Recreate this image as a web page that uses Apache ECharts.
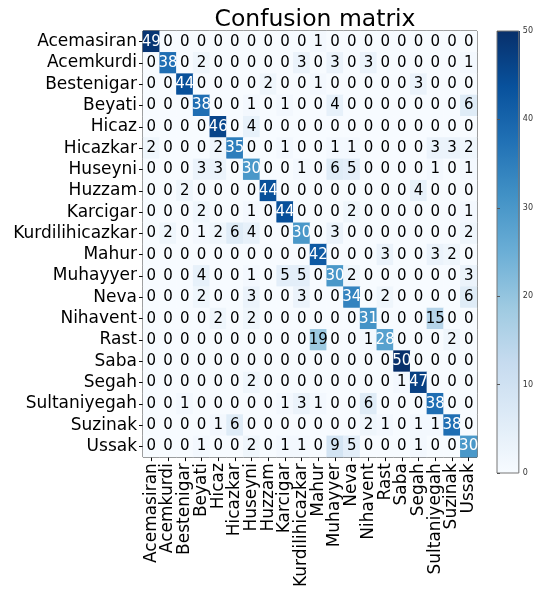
<!DOCTYPE html>
<html>
<head>
<meta charset="utf-8">
<script src="https://cdn.jsdelivr.net/npm/echarts@6/dist/echarts.min.js"></script>
<style>
  html, body { margin: 0; padding: 0; background: #fff; }
  #chart { width: 536px; height: 590px; }
</style>
</head>
<body>
<div id="chart"></div>
<script>
const labels = ['Acemasiran', 'Acemkurdi', 'Bestenigar', 'Beyati', 'Hicaz', 'Hicazkar', 'Huseyni', 'Huzzam',
  'Karcigar', 'Kurdilihicazkar', 'Mahur', 'Muhayyer', 'Neva', 'Nihavent', 'Rast', 'Saba', 'Segah',
  'Sultaniyegah', 'Suzinak', 'Ussak']

// rows = true label, columns = predicted label
const matrix = [
  [49, 0, 0, 0, 0, 0, 0, 0, 0, 0, 1, 0, 0, 0, 0, 0, 0, 0, 0, 0],
  [0, 38, 0, 2, 0, 0, 0, 0, 0, 3, 0, 3, 0, 3, 0, 0, 0, 0, 0, 1],
  [0, 0, 44, 0, 0, 0, 0, 2, 0, 0, 1, 0, 0, 0, 0, 0, 3, 0, 0, 0],
  [0, 0, 0, 38, 0, 0, 1, 0, 1, 0, 0, 4, 0, 0, 0, 0, 0, 0, 0, 6],
  [0, 0, 0, 0, 46, 0, 4, 0, 0, 0, 0, 0, 0, 0, 0, 0, 0, 0, 0, 0],
  [2, 0, 0, 0, 2, 35, 0, 0, 1, 0, 0, 1, 1, 0, 0, 0, 0, 3, 3, 2],
  [0, 0, 0, 3, 3, 0, 30, 0, 0, 1, 0, 6, 5, 0, 0, 0, 0, 1, 0, 1],
  [0, 0, 2, 0, 0, 0, 0, 44, 0, 0, 0, 0, 0, 0, 0, 0, 4, 0, 0, 0],
  [0, 0, 0, 2, 0, 0, 1, 0, 44, 0, 0, 0, 2, 0, 0, 0, 0, 0, 0, 1],
  [0, 2, 0, 1, 2, 6, 4, 0, 0, 30, 0, 3, 0, 0, 0, 0, 0, 0, 0, 2],
  [0, 0, 0, 0, 0, 0, 0, 0, 0, 0, 42, 0, 0, 0, 3, 0, 0, 3, 2, 0],
  [0, 0, 0, 4, 0, 0, 1, 0, 5, 5, 0, 30, 2, 0, 0, 0, 0, 0, 0, 3],
  [0, 0, 0, 2, 0, 0, 3, 0, 0, 3, 0, 0, 34, 0, 2, 0, 0, 0, 0, 6],
  [0, 0, 0, 0, 2, 0, 2, 0, 0, 0, 0, 0, 0, 31, 0, 0, 0, 15, 0, 0],
  [0, 0, 0, 0, 0, 0, 0, 0, 0, 0, 19, 0, 0, 1, 28, 0, 0, 0, 2, 0],
  [0, 0, 0, 0, 0, 0, 0, 0, 0, 0, 0, 0, 0, 0, 0, 50, 0, 0, 0, 0],
  [0, 0, 0, 0, 0, 0, 2, 0, 0, 0, 0, 0, 0, 0, 0, 1, 47, 0, 0, 0],
  [0, 0, 1, 0, 0, 0, 0, 0, 1, 3, 1, 0, 0, 6, 0, 0, 0, 38, 0, 0],
  [0, 0, 0, 0, 1, 6, 0, 0, 0, 0, 0, 0, 0, 2, 1, 0, 1, 1, 38, 0],
  [0, 0, 0, 1, 0, 0, 2, 0, 1, 1, 0, 9, 5, 0, 0, 0, 1, 0, 0, 30]
]

const colorbarTicks = [0, 10, 20, 30, 40, 50]

// matplotlib Blues
const blues = ['#f7fbff', '#deebf7', '#c6dbef', '#9ecae1', '#6baed6', '#4292c6', '#2171b5', '#08519c', '#08306b']
const vmax = 50
const thresh = vmax / 2

const font = 'DejaVu Sans'
const chart = echarts.init(document.getElementById('chart'))

const cells = []
matrix.forEach((row, i) => {
  row.forEach((v, j) => {
    cells.push({
      value: [j, i, v],
      label: { color: v > thresh ? '#fff' : '#000' }
    })
  })
})

const option = {
  animation: false,
  title: {
    text: 'Confusion matrix',
    left: 310,
    textAlign: 'center',
    top: 3,
    textStyle: { fontFamily: font, fontSize: 23.5, fontWeight: 'normal', color: '#000' }
  },
  grid: [
    { left: 143, top: 31, width: 334, height: 441, show: true, borderColor: '#000', borderWidth: 1 },
    { left: 497, top: 31, width: 23, height: 442, show: true, borderColor: '#777', borderWidth: 1 }
  ],
  visualMap: {
    show: false,
    min: 0,
    max: vmax,
    seriesIndex: 0,
    inRange: { color: blues }
  },
  xAxis: [
    {
      type: 'category',
      gridIndex: 0,
      data: labels,
      axisLine: { show: false },
      axisTick: { show: true, alignWithLabel: true, length: 4, lineStyle: { color: '#000' } },
      axisLabel: { rotate: 90, interval: 0, fontFamily: font, fontSize: 17, color: '#000', margin: 6 },
      splitLine: { show: false }
    },
    {
      type: 'value',
      gridIndex: 1,
      show: false
    }
  ],
  yAxis: [
    {
      type: 'category',
      gridIndex: 0,
      data: labels,
      inverse: true,
      axisLine: { show: false },
      axisTick: { show: true, alignWithLabel: true, length: 4, lineStyle: { color: '#000' } },
      axisLabel: { interval: 0, fontFamily: font, fontSize: 17, color: '#000', margin: 6 },
      splitLine: { show: false }
    },
    {
      type: 'value',
      gridIndex: 1,
      position: 'right',
      min: colorbarTicks[0],
      max: colorbarTicks[colorbarTicks.length - 1],
      interval: 10,
      axisLine: { show: false },
      axisTick: { show: true, length: 3, lineStyle: { color: '#555' } },
      axisLabel: { fontFamily: font, fontSize: 8, color: '#333', margin: 4 },
      splitLine: { show: false }
    }
  ],
  graphic: [
    {
      type: 'rect',
      left: 497,
      top: 31,
      z: -1,
      shape: { width: 23, height: 442 },
      style: {
        fill: new echarts.graphic.LinearGradient(0, 1, 0, 0,
          blues.map((c, k) => ({ offset: k / (blues.length - 1), color: c })))
      }
    }
  ],
  series: [
    {
      type: 'heatmap',
      xAxisIndex: 0,
      yAxisIndex: 0,
      data: cells,
      label: {
        show: true,
        fontFamily: font,
        fontSize: 15,
        formatter: p => p.value[2]
      },
      itemStyle: { borderWidth: 0 },
      emphasis: { disabled: true }
    }
  ]
}

chart.setOption(option)
</script>
</body>
</html>
